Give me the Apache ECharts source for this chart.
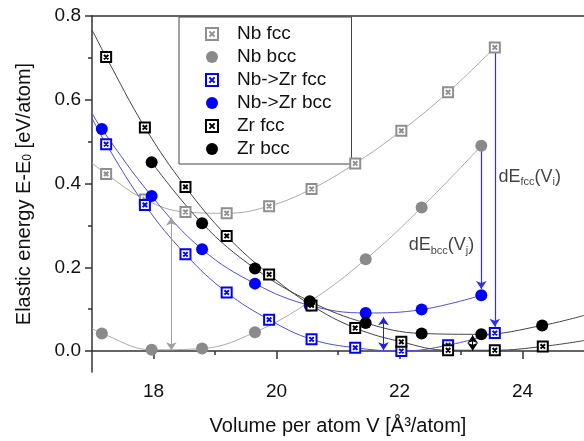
<!DOCTYPE html>
<html>
<head>
<meta charset="utf-8">
<script src="https://cdn.jsdelivr.net/npm/echarts@6/dist/echarts.min.js"></script>
<style>
html, body { margin: 0; padding: 0; background: #fff; }
#chart { width: 584px; height: 441px; }
</style>
</head>
<body>
<div id="chart"></div>
<script>
// volumes per atom [Å³/atom]
var volFcc = [17.23, 17.86, 18.52, 19.19, 19.88, 20.57, 21.28, 22.03, 22.79, 23.55, 24.33];
var volBcc = [17.16, 17.97, 18.79, 19.65, 20.54, 21.45, 22.36, 23.33, 24.32];

// energies E-E0 [eV/atom]
var nbFcc   = [0.423, 0.362, 0.332, 0.329, 0.346, 0.387, 0.448, 0.526, 0.618, 0.725];
var nbBcc   = [0.042, 0.003, 0.006, 0.045, 0.118, 0.219, 0.343, 0.490];
var nbZrFcc = [0.494, 0.349, 0.231, 0.140, 0.075, 0.028, 0.008, 0.000, 0.014, 0.043];
var nbZrBcc = [0.530, 0.370, 0.243, 0.161, 0.109, 0.091, 0.099, 0.133];
var zrFcc   = [0.702, 0.534, 0.392, 0.275, 0.183, 0.109, 0.055, 0.022, 0.002, 0.002, 0.011];
var zrBcc   = [null, 0.451, 0.305, 0.197, 0.119, 0.067, 0.042, 0.040, 0.061];

// where the fitted curves meet the plot edges
var fitLeftX = 17.0, fitRightX = 25.0;
var fitLeft  = [0.449, 0.054, 0.556, 0.568, 0.767, null];
var fitRight = [null, null, null, null, 0.025, 0.085];

var seriesNames = ['Nb fcc', 'Nb bcc', 'Nb->Zr fcc', 'Nb->Zr bcc', 'Zr fcc', 'Zr bcc'];

// arrows [x, yFrom, yTo]
var doubleArrows = [[18.29, 0.002, 0.319], [21.74, 0.002, 0.081], [23.19, 0.001, 0.038]];
var dropArrows = [[23.33, 0.490, 0.148], [23.55, 0.725, 0.058]];

var xLabels = [18, 20, 22, 24];
var xMinor = [19, 21, 23];
var yLabels = [0, 0.2, 0.4, 0.6, 0.8];
var yMinor = [0.1, 0.3, 0.5, 0.7];

var FONT = 'Liberation Sans';
var crossSq = 'path://M0,0H10V10H0ZM2.8,2.8L7.2,7.2M7.2,2.8L2.8,7.2';

function pairs(xs, ys) {
	var out = [];
	for (var i = 0; i < ys.length; i++) {
		if (ys[i] != null) out.push([xs[i], ys[i]]);
	}
	return out;
}

var sets = [
	{ pts: pairs(volFcc, nbFcc),   mark: 'sq', c: '#8f8f8f', line: '#aaaaaa' },
	{ pts: pairs(volBcc, nbBcc),   mark: 'ci', c: '#8a8a8a', line: '#aaaaaa' },
	{ pts: pairs(volFcc, nbZrFcc), mark: 'sq', c: '#0000ff', line: '#5050d0' },
	{ pts: pairs(volBcc, nbZrBcc), mark: 'ci', c: '#0000ff', line: '#5050d0' },
	{ pts: pairs(volFcc, zrFcc),   mark: 'sq', c: '#000000', line: '#444444' },
	{ pts: pairs(volBcc, zrBcc),   mark: 'ci', c: '#000000', line: '#444444' }
];

var series = [];
// fitted curves first, markers on top
sets.forEach(function (s, i) {
	var d = s.pts.slice();
	if (fitLeft[i] != null) d.unshift([fitLeftX, fitLeft[i]]);
	if (fitRight[i] != null) d.push([fitRightX, fitRight[i]]);
	series.push({
		name: 'fit ' + seriesNames[i],
		type: 'line',
		data: d,
		smooth: 0.4,
		showSymbol: false,
		silent: true,
		lineStyle: { color: s.line, width: 1 },
		z: 1
	});
});

var arrowCols = ['#a0a0a0', '#2020dd', '#000000'];
series.push({
	type: 'lines',
	coordinateSystem: 'cartesian2d',
	symbol: ['arrow', 'arrow'],
	symbolSize: 8,
	lineStyle: { width: 1, opacity: 1 },
	data: doubleArrows.map(function (a, i) {
		return {
			coords: [[a[0], a[1]], [a[0], a[2]]],
			lineStyle: { color: arrowCols[i], width: 1, opacity: 1 }
		};
	}),
	silent: true,
	z: 3
});
series.push({
	type: 'lines',
	coordinateSystem: 'cartesian2d',
	symbol: ['none', 'arrow'],
	symbolSize: 8,
	lineStyle: { width: 1.2, opacity: 1 },
	data: dropArrows.map(function (a) {
		return {
			coords: [[a[0], a[1]], [a[0], a[2]]],
			lineStyle: { color: '#3030e8', width: 1.2, opacity: 1 }
		};
	}),
	silent: true,
	z: 3
});

sets.forEach(function (s, i) {
	var it = s.mark === 'sq'
		? { color: '#ffffff', borderColor: s.c, borderWidth: 2, opacity: 1 }
		: { color: s.c, opacity: 1 };
	series.push({
		name: seriesNames[i],
		type: 'scatter',
		data: s.pts,
		symbol: s.mark === 'sq' ? crossSq : 'circle',
		symbolSize: s.mark === 'sq' ? 10 : 12,
		itemStyle: it,
		z: 4
	});
});

// text labels for the energy differences
var richText = {
	m: { fontFamily: FONT, fontSize: 18, color: '#111', lineHeight: 22 },
	s: { fontFamily: FONT, fontSize: 11, color: '#111', lineHeight: 10, verticalAlign: 'bottom' }
};
series.push({
	type: 'scatter',
	symbolSize: 0,
	silent: true,
	data: [
		{ value: [23.61, 0.416], label: { formatter: '{m|dE}{s|fcc}{m|(V}{s|i}{m|)}' } },
		{ value: [22.15, 0.253], label: { formatter: '{m|dE}{s|bcc}{m|(V}{s|j}{m|)}' } }
	],
	label: { show: true, position: 'right', distance: 0, rich: richText },
	z: 5
});

var axisCol = '#333';
var option = {
	animation: false,
	backgroundColor: '#fff',
	textStyle: { fontFamily: FONT },
	grid: { left: 92, right: -4, top: 16, bottom: 69 },
	legend: {
		data: seriesNames,
		orient: 'vertical',
		left: 179,
		top: 17,
		padding: [7, 20, 5, 26],
		itemWidth: 40,
		itemHeight: 12,
		itemGap: 3,
		borderColor: '#444',
		borderWidth: 1,
		backgroundColor: '#fff',
		selectedMode: false,
		textStyle: { fontFamily: FONT, fontSize: 19, color: '#111', lineHeight: 20 }
	},
	xAxis: [{
		type: 'value', min: 17, max: 25,
		name: 'Volume per atom V [Å³/atom]',
		nameLocation: 'middle', nameGap: 44,
		nameTextStyle: { fontFamily: FONT, fontSize: 20, color: '#111' },
		axisLine: { lineStyle: { color: axisCol, width: 1.5 } },
		axisTick: { length: 8, customValues: xLabels, lineStyle: { color: axisCol, width: 1.5 } },
		axisLabel: { customValues: xLabels, margin: 10, fontFamily: FONT, fontSize: 19, color: '#111' },
		splitLine: { show: false }
	}, {
		type: 'value', min: 17, max: 25, position: 'bottom',
		axisLine: { show: false },
		axisTick: { length: 4, customValues: xMinor, lineStyle: { color: axisCol, width: 1.5 } },
		axisLabel: { show: false },
		splitLine: { show: false }
	}, {
		type: 'value', min: 17, max: 25, position: 'top',
		axisLine: { lineStyle: { color: axisCol, width: 1.5 } },
		axisTick: { show: false },
		axisLabel: { show: false },
		splitLine: { show: false }
	}],
	yAxis: [{
		type: 'value', min: -0.05, max: 0.8,
		name: 'Elastic energy E-E{sub|0} [eV/atom]',
		nameLocation: 'middle', nameGap: 58,
		nameTextStyle: {
			fontFamily: FONT, fontSize: 20, color: '#111',
			rich: { sub: { fontFamily: FONT, fontSize: 12, color: '#111', verticalAlign: 'bottom', lineHeight: 10 } }
		},
		axisLine: { lineStyle: { color: axisCol, width: 1.5 } },
		axisTick: { length: 7, customValues: yLabels, lineStyle: { color: axisCol, width: 1.5 } },
		axisLabel: {
			customValues: yLabels, margin: 11, fontFamily: FONT, fontSize: 19, color: '#111',
			formatter: function (v) { return v.toFixed(1); }
		},
		splitLine: { show: false }
	}, {
		type: 'value', min: -0.05, max: 0.8, position: 'left',
		axisLine: { show: false },
		axisTick: { length: 4, customValues: yMinor, lineStyle: { color: axisCol, width: 1.5 } },
		axisLabel: { show: false },
		splitLine: { show: false }
	}],
	series: series
};

var chart = echarts.init(document.getElementById('chart'), null, { renderer: 'canvas' });
chart.setOption(option);
</script>
</body>
</html>
